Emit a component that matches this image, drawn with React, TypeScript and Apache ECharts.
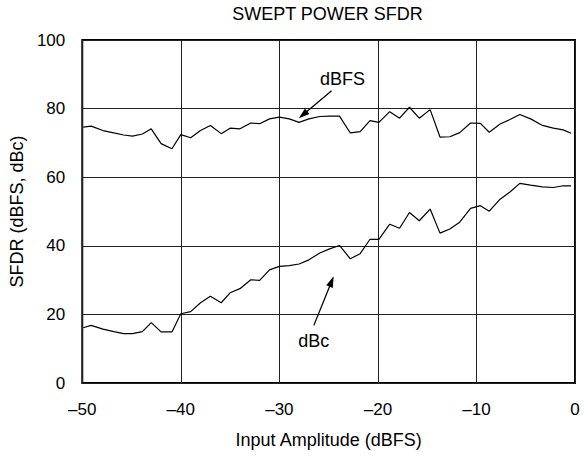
import React, { useEffect, useRef } from "react";
import * as echarts from "echarts";

const titleText = "SWEPT POWER SFDR";
const xAxisName = "Input Amplitude (dBFS)";
const yAxisName = "SFDR (dBFS, dBc)";

const xValues = [
  -49.9, -49.1, -47.9, -46.8, -45.8, -44.9, -43.9, -43.0, -42.0, -40.9,
  -40.0, -39.0, -38.0, -37.0, -35.9, -35.0, -34.0, -32.9, -32.0, -31.0,
  -30.0, -29.0, -28.0, -27.0, -25.9, -24.9, -23.9, -22.8, -21.8, -20.8,
  -19.9, -18.8, -17.8, -16.8, -15.8, -14.7, -13.7, -12.7, -11.7, -10.6,
  -9.6, -8.7, -7.6, -6.6, -5.6, -4.5, -3.3, -2.2, -1.2, -0.4,
];

const dbfsValues = [
  74.6, 74.9, 73.6, 72.9, 72.3, 72.0, 72.6, 74.1, 69.8, 68.3,
  72.4, 71.5, 73.6, 75.1, 72.7, 74.3, 74.1, 75.8, 75.6, 77.0,
  77.5, 77.0, 76.0, 77.0, 77.7, 77.8, 77.8, 72.9, 73.3, 76.5,
  76.0, 79.1, 77.2, 80.4, 77.2, 79.7, 71.7, 71.8, 73.0, 75.8,
  75.7, 73.1, 75.5, 76.8, 78.3, 77.0, 75.1, 74.3, 73.8, 72.8,
];

const dbcValues = [
  16.1, 16.8, 15.7, 15.0, 14.4, 14.4, 15.0, 17.6, 14.9, 14.9,
  20.2, 20.8, 23.4, 25.3, 23.4, 26.3, 27.5, 30.1, 29.9, 33.0,
  34.0, 34.2, 34.7, 35.9, 37.9, 39.1, 40.1, 36.2, 37.7, 41.9,
  41.9, 46.3, 45.1, 49.7, 47.3, 50.7, 43.7, 44.9, 46.9, 50.9,
  51.7, 50.1, 53.6, 55.7, 58.2, 57.7, 57.2, 57.0, 57.5, 57.5,
];

// annotation labels: [x, y] in data units
const dbfsLabel = { text: "dBFS", pos: [-23.6, 88.5] };
const dbcLabel = { text: "dBc", pos: [-26.5, 12.3] };
// annotation arrows: tail -> tip, in data units
const dbfsArrow = { from: [-24.7, 85.2], to: [-27.6, 78.2] };
const dbcArrow = { from: [-26.5, 16.8], to: [-24.7, 29.6] };

const FONT = "'Liberation Sans', Arial, Helvetica, sans-serif";

function fmtMinus(v: number) {
  return v < 0 ? "\u2013" + String(-v) : String(v);
}

export default function App() {
  const ref = useRef<HTMLDivElement>(null);

  useEffect(() => {
    if (!ref.current) return;
    const chart = echarts.init(ref.current, undefined, { renderer: "svg" });

    const arrowLine = (a: { from: number[]; to: number[] }) => [
      { coord: a.from, symbol: "none" },
      { coord: a.to, symbol: "triangle", symbolSize: [7, 11] },
    ];
    const labelPoint = (l: { text: string; pos: number[] }) => ({
      coord: l.pos,
      name: l.text,
      symbol: "circle",
      symbolSize: 0,
      label: {
        show: true,
        position: "inside",
        formatter: l.text,
        color: "#000",
        fontSize: 18,
        fontFamily: FONT,
      },
    });

    chart.setOption({
      animation: false,
      backgroundColor: "#fff",
      textStyle: { fontFamily: FONT, color: "#000" },
      graphic: [
        {
          type: "text",
          x: 327.5,
          y: 14,
          style: {
            text: titleText,
            textAlign: "center",
            verticalAlign: "middle",
            textVerticalAlign: "middle",
            fontSize: 18,
            fontFamily: FONT,
            fill: "#000",
          },
        },
      ],
      grid: {
        left: 80,
        right: 11,
        top: 40,
        bottom: 75,
        show: true,
        borderColor: "#000",
        borderWidth: 2,
        backgroundColor: "transparent",
      },
      xAxis: {
        type: "value",
        min: -50,
        max: 0,
        interval: 10,
        name: xAxisName,
        nameLocation: "middle",
        nameGap: 48,
        nameTextStyle: { fontSize: 18, fontFamily: FONT, color: "#000" },
        axisLine: { show: false },
        axisTick: { show: false },
        axisLabel: {
          fontSize: 17,
          fontFamily: FONT,
          color: "#000",
          margin: 18,
          formatter: (v: number) => fmtMinus(v),
        },
        splitLine: { show: true, lineStyle: { color: "#222", width: 1 } },
      },
      yAxis: {
        type: "value",
        min: 0,
        max: 100,
        interval: 20,
        name: yAxisName,
        nameLocation: "middle",
        nameGap: 44,
        nameTextStyle: { fontSize: 18, fontFamily: FONT, color: "#000" },
        axisLine: { show: false },
        axisTick: { show: false },
        axisLabel: {
          fontSize: 17,
          fontFamily: FONT,
          color: "#000",
          margin: 17,
        },
        splitLine: { show: true, lineStyle: { color: "#222", width: 1 } },
      },
      series: [
        {
          name: "dBFS",
          type: "line",
          data: xValues.map((x, i) => [x, dbfsValues[i]]),
          showSymbol: false,
          symbol: "none",
          lineStyle: { color: "#000", width: 1.2 },
          markLine: {
            silent: true,
            symbol: ["none", "triangle"],
            lineStyle: { color: "#000", width: 1.3, type: "solid" },
            itemStyle: { color: "#000" },
            label: { show: false },
            data: [arrowLine(dbfsArrow), arrowLine(dbcArrow)],
          },
          markPoint: {
            silent: true,
            data: [labelPoint(dbfsLabel), labelPoint(dbcLabel)],
          },
        },
        {
          name: "dBc",
          type: "line",
          data: xValues.map((x, i) => [x, dbcValues[i]]),
          showSymbol: false,
          symbol: "none",
          lineStyle: { color: "#000", width: 1.2 },
        },
      ],
    });

    return () => chart.dispose();
  }, []);

  return (
    <div
      ref={ref}
      style={{ position: "absolute", left: 0, top: 0, width: 586, height: 458 }}
    />
  );
}
